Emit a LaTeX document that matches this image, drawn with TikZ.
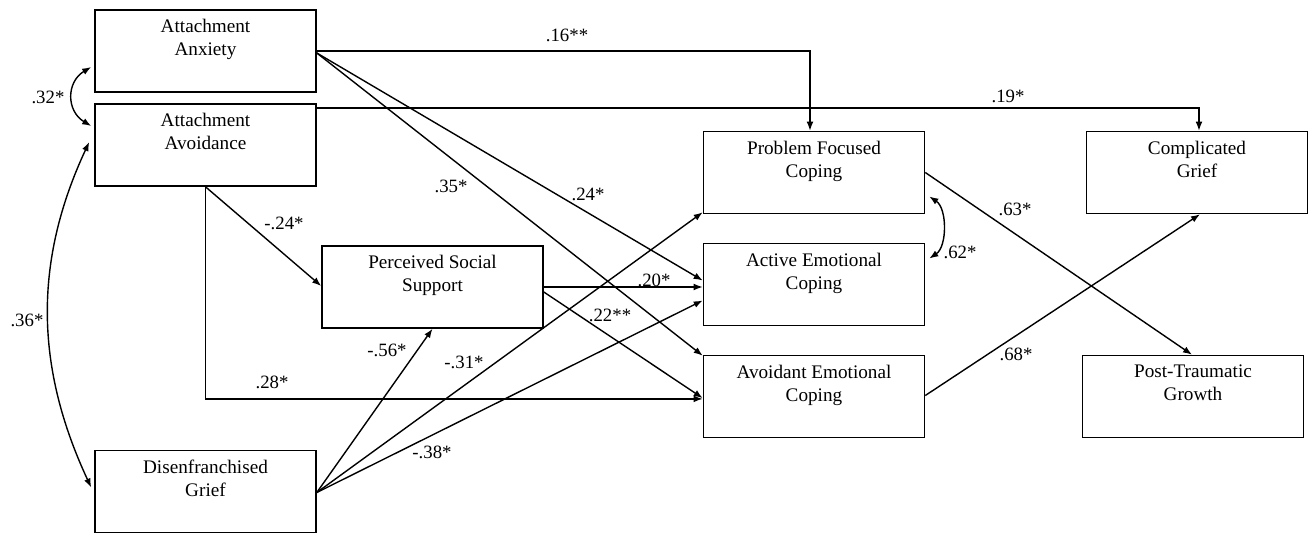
\documentclass[tikz,border=0pt]{standalone}
\usepackage{fontspec}
\setmainfont{Liberation Serif}
\usetikzlibrary{arrows.meta,calc}
\begin{document}
\begin{tikzpicture}[x=0.5pt,y=-0.5pt,
  box/.style={draw,line width=0.8pt,minimum width=110.5pt,minimum height=41pt,inner sep=0pt},
  txt/.style={anchor=north,align=center,inner sep=0pt,font=\fontsize{9.6}{11.5}\selectfont},
  lab/.style={inner sep=0pt,font=\fontsize{9.4}{11}\selectfont},
  arr/.style={line width=0.7pt,-{Latex[length=4.5pt,width=3.4pt]}},
  darr/.style={line width=0.7pt,{Latex[length=4.5pt,width=3.4pt]}-{Latex[length=4.5pt,width=3.4pt]}}]
\useasboundingbox (0,0) rectangle (1308,534);
% boxes
\node[box] (anx) at (205.5,51) {};
\node[box] (avd) at (205.5,145) {};
\node[box] (dis) at (205.5,491.5) {};
\node[box] (pss) at (432.5,287) {};
\node[box] (pfc) at (814,172.5) {};
\node[box] (act) at (814,284.5) {};
\node[box] (avo) at (814,396.5) {};
\node[box] (cg) at (1197,172.5) {};
\node[box] (ptg) at (1193,396.5) {};
% texts
\node[txt] (anxT) at ([yshift=-5pt]anx.north) {Attachment\\Anxiety};
\node[txt] (avdT) at ([yshift=-5pt]avd.north) {Attachment\\Avoidance};
\node[txt] (disT) at ([yshift=-5pt]dis.north) {Disenfranchised\\Grief};
\node[txt] (pssT) at ([yshift=-5pt]pss.north) {Perceived Social\\Support};
\node[txt] (pfcT) at ([yshift=-5pt]pfc.north) {Problem Focused\\Coping};
\node[txt] (actT) at ([yshift=-5pt]act.north) {Active Emotional\\Coping};
\node[txt] (avoT) at ([yshift=-5pt]avo.north) {Avoidant Emotional\\Coping};
\node[txt] (cgT) at ([yshift=-5pt]cg.north) {Complicated\\Grief};
\node[txt] (ptgT) at ([yshift=-5pt]ptg.north) {Post-Traumatic\\Growth};
% connectors
\draw[arr] (anx.east) -| ([xshift=-2pt]pfc.north);
\draw[arr] ([yshift=-2.5pt]avd.north east) -| ([xshift=1pt]cg.north);
\draw[arr] ([yshift=-1pt]anx.east) -- ([yshift=2pt]act.west);
\draw[arr] ([yshift=-1pt]anx.east) -- ([yshift=-0.5pt]avo.north west);
\draw[arr] (avd.south) -- ([yshift=0.5pt]pss.west);
\draw[arr] (avd.south) |- ([yshift=-1.2pt]avo.west);
\draw[arr] ([yshift=-0.5pt]dis.east) -- (pss.south);
\draw[arr] ([yshift=-0.5pt]dis.east) -- ([yshift=1pt]pfc.south west);
\draw[arr] ([yshift=-0.5pt]dis.east) -- ([yshift=-8pt]act.west);
\draw[arr] (pss.east) -- (pss.east -| act.west);
\draw[arr] ([yshift=-2.5pt]pss.east) -- ([yshift=-0.8pt]avo.west);
\draw[arr] (pfc.east) -- ([xshift=-0.5pt]ptg.north);
\draw[arr] ([yshift=0.5pt]avo.east) -- ([xshift=1.5pt]cg.south);
\draw[darr] ([xshift=2pt,yshift=-12pt]pfc.east) .. controls +(18,12) and +(18,-12) .. ([xshift=2pt,yshift=13pt]act.east);
\draw[darr] ([xshift=-1.5pt,yshift=-8pt]anx.west) .. controls +(-25,15) and +(-25,-15) .. ([xshift=-1.5pt,yshift=9.5pt]avd.west);
\draw[darr] ([xshift=-2.5pt,yshift=1.5pt]avd.west) .. controls +(-56,120) and +(-56,-120) .. ([xshift=-1.5pt,yshift=2pt]dis.west);
% labels
\node[lab] (l16) at (567,35) {.16**};
\node[lab] (l19) at (1008,96) {.19*};
\node[lab] (l32) at (48,97) {.32*};
\node[lab] (l36) at (27,320) {.36*};
\node[lab] (l35) at (451,186) {.35*};
\node[lab] (l24) at (588,194) {.24*};
\node[lab] (lm24) at (284,223) {-.24*};
\node[lab] (l28) at (272,382) {.28*};
\node[lab] (lm56) at (387,350) {-.56*};
\node[lab] (lm31) at (464,362) {-.31*};
\node[lab] (lm38) at (432,452) {-.38*};
\node[lab] (l20) at (654,280) {.20*};
\node[lab] (l22) at (610,315) {.22**};
\node[lab] (l62) at (960,252) {.62*};
\node[lab] (l63) at (1015,209) {.63*};
\node[lab] (l68) at (1016,354) {.68*};
\end{tikzpicture}
\end{document}
